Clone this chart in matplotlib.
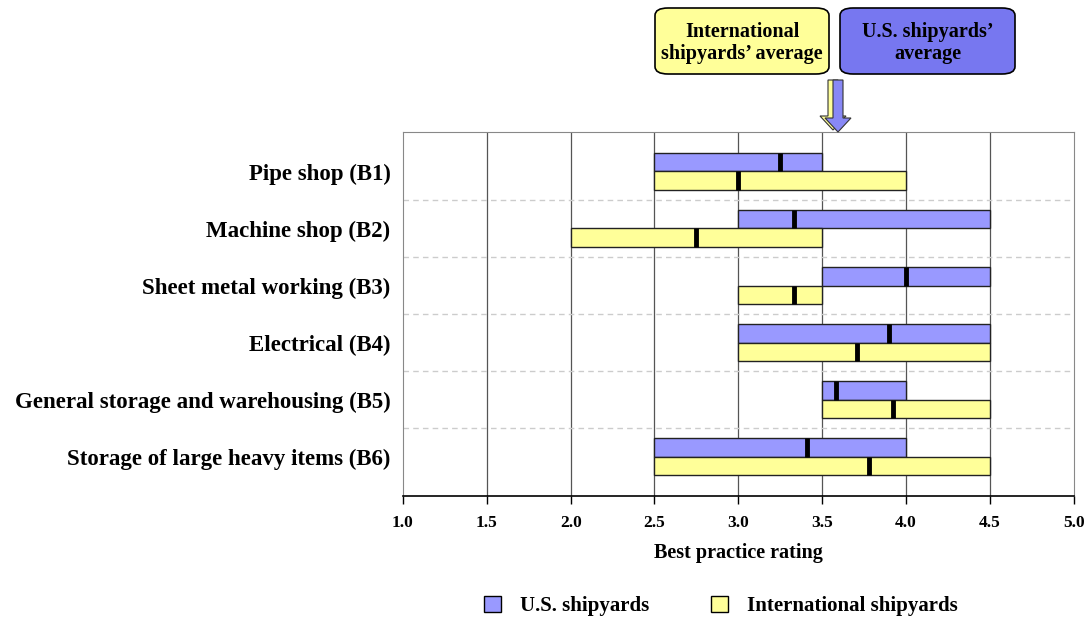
import matplotlib
matplotlib.use("Agg")
import matplotlib.pyplot as plt
from matplotlib.patches import FancyBboxPatch, FancyArrow, Patch
import numpy as np

plt.rcParams['font.family'] = ['Liberation Serif', 'DejaVu Serif']
plt.rcParams['font.weight'] = 'bold'

categories = ["Pipe shop (B1)", "Machine shop (B2)", "Sheet metal working (B3)",
              "Electrical (B4)", "General storage and warehousing (B5)",
              "Storage of large heavy items (B6)"]
us_low = [2.5, 3.0, 3.5, 3.0, 3.5, 2.5]
us_high = [3.5, 4.5, 4.5, 4.5, 4.0, 4.0]
us_avg = [3.25, 3.33, 4.0, 3.9, 3.58, 3.41]
intl_low = [2.5, 2.0, 3.0, 3.0, 3.5, 2.5]
intl_high = [4.0, 3.5, 3.5, 4.5, 4.5, 4.5]
intl_avg = [3.0, 2.75, 3.33, 3.71, 3.92, 3.78]
xticks = [1.0, 1.5, 2.0, 2.5, 3.0, 3.5, 4.0, 4.5, 5.0]

blue = "#9999FF"
yellow = "#FFFF99"

fig = plt.figure(figsize=(10.89, 6.2), dpi=100)
ax = fig.add_axes([0.370, 0.2, 0.616, 0.587])

y = np.arange(len(categories))
h = 0.32

# vertical grid
for xv in xticks[1:-1]:
    ax.axvline(xv, color="#555555", lw=0.9, zorder=0)
# dashed separators
for k in range(len(categories) - 1):
    ax.axhline(k + 0.5, color="#CCCCCC", lw=1.0, ls=(0, (4, 3)), zorder=0)

ax.barh(y - h / 2, np.array(us_high) - np.array(us_low), left=us_low, height=h,
        color=blue, edgecolor="#222222", lw=1.0, zorder=2)
ax.barh(y + h / 2, np.array(intl_high) - np.array(intl_low), left=intl_low, height=h,
        color=yellow, edgecolor="#222222", lw=1.0, zorder=2)

for i in range(len(categories)):
    ax.plot([us_avg[i]] * 2, [i - h, i], color="black", lw=3.5, zorder=3,
            solid_capstyle="butt")
    ax.plot([intl_avg[i]] * 2, [i, i + h], color="black", lw=3.5, zorder=3,
            solid_capstyle="butt")

ax.set_xlim(1.0, 5.0)
ax.set_ylim(len(categories) - 1 + 0.69, -0.69)
ax.set_xticks(xticks)
ax.set_xticklabels([f"{v:.1f}" for v in xticks], fontsize=12.5, fontweight="bold")
ax.set_yticks(y)
ax.set_yticklabels(categories, fontsize=16.5, fontweight="bold")
ax.tick_params(axis="y", length=0, pad=9)
ax.tick_params(axis="x", direction="out", length=6, width=1.0, pad=8)
ax.set_xlabel("Best practice rating", fontsize=14.5, fontweight="bold", labelpad=8)

for s in ["top", "left", "right"]:
    ax.spines[s].set_color("#888888")
ax.spines["bottom"].set_color("black")
ax.spines["bottom"].set_linewidth(1.2)

# callout boxes
def callout(x0, y0, w, hh, color, text):
    box = FancyBboxPatch((x0, y0), w, hh, boxstyle="round,pad=0,rounding_size=0.012",
                         transform=fig.transFigure, facecolor=color,
                         edgecolor="black", lw=1.2)
    fig.patches.append(box)
    fig.text(x0 + w / 2, y0 + hh / 2 - 0.003, text, ha="center", va="center",
             fontsize=14.5, fontweight="bold", linespacing=1.15)

callout(655 / 1089, 1 - 74 / 620, 174 / 1089, 66 / 620, yellow,
        "International\nshipyards\u2019 average")
callout(840 / 1089, 1 - 74 / 620, 175 / 1089, 66 / 620, "#7777F0",
        "U.S. shipyards\u2019\naverage")

# arrows
fig.add_artist(FancyArrow(
    833 / 1089, 1 - 80 / 620, 0, -50 / 620, width=10 / 1089, head_width=26 / 1089,
    head_length=14 / 620, length_includes_head=True, transform=fig.transFigure,
    facecolor=yellow, edgecolor="#333333", lw=0.8))
fig.add_artist(FancyArrow(
    838 / 1089, 1 - 80 / 620, 0, -52 / 620, width=10 / 1089, head_width=26 / 1089,
    head_length=14 / 620, length_includes_head=True, transform=fig.transFigure,
    facecolor="#8888F5", edgecolor="#333333", lw=0.8))

handles = [Patch(facecolor=blue, edgecolor="black", label="U.S. shipyards"),
           Patch(facecolor=yellow, edgecolor="black", label="International shipyards")]
fig.legend(handles=handles, loc="center", bbox_to_anchor=(0.662, 0.023), ncol=2,
           frameon=False, prop={"size": 15, "weight": "bold"},
           handlelength=0.8, handleheight=0.8, columnspacing=3.0, handletextpad=0.9)

fig.savefig("out.png", dpi=100)
